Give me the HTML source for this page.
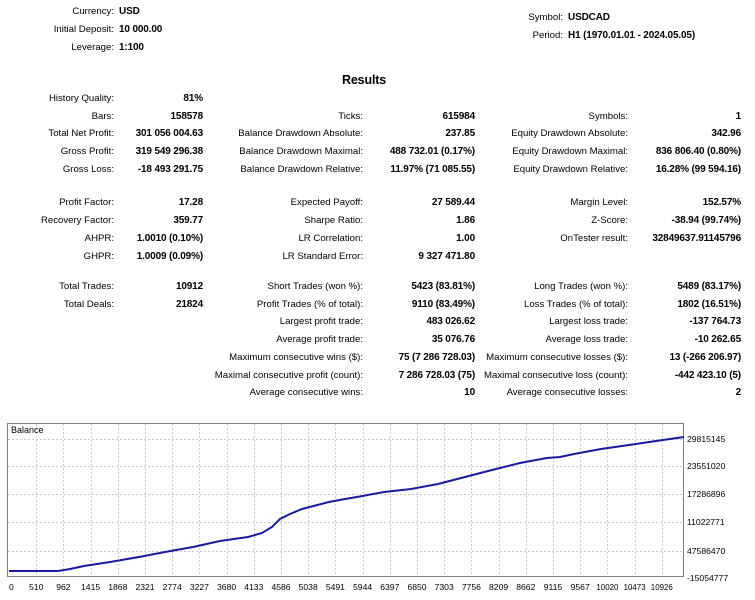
<!DOCTYPE html>
<html><head><meta charset="utf-8"><style>
body{margin:0;width:755px;height:600px;background:#fff;position:relative;overflow:hidden;font-family:"Liberation Sans",sans-serif;font-size:9.6px;color:#000}
.t{position:absolute;line-height:14px;white-space:nowrap}
.b{font-weight:bold;font-size:10px;letter-spacing:-0.15px}
</style></head><body>
<div class="t" style="right:641px;top:5px">Currency:</div><div class="t b" style="left:119px;top:5px">USD</div>
<div class="t" style="right:641px;top:23px">Initial Deposit:</div><div class="t b" style="left:119px;top:23px">10 000.00</div>
<div class="t" style="right:641px;top:41px">Leverage:</div><div class="t b" style="left:119px;top:41px">1:100</div>
<div class="t" style="right:192px;top:11px">Symbol:</div><div class="t b" style="left:568px;top:11px">USDCAD</div>
<div class="t" style="right:192px;top:29px">Period:</div><div class="t b" style="left:568px;top:29px">H1 (1970.01.01 - 2024.05.05)</div>
<div class="t b" style="left:342px;top:72px;font-size:12.5px;line-height:16px">Results</div>
<div id="rows"></div>
<svg style="position:absolute;left:0;top:0" width="755" height="600">
<rect x="7.5" y="423.5" width="676" height="153" fill="#fff" stroke="#808080"/>
<g id="grid" stroke="#c8c8c8" stroke-dasharray="2,2"></g>
<polyline fill="none" stroke="#1a1a9c" stroke-width="2" points="9,571 58,571 70,569 84,566 110,562 139,557 165,552 193,547 220,541 248,537 262,533 272,527 280,519 290,514 302,509 329,502 345,499 357,497 384,492 411,489 438,484 465,477 492,470 520,463 547,458 560,457 574,454 601,449 629,445 656,441 684,437"/>
<text x="11" y="433" font-size="9" font-family="Liberation Sans">Balance</text>
<g id="lab" font-size="8.6" font-family="Liberation Sans"></g>
</svg>
<script>
var R=[
[99,"History Quality:","81%"],[117,"Bars:","158578","Ticks:","615984","Symbols:","1"],
[134,"Total Net Profit:","301 056 004.63","Balance Drawdown Absolute:","237.85","Equity Drawdown Absolute:","342.96"],
[152,"Gross Profit:","319 549 296.38","Balance Drawdown Maximal:","488 732.01 (0.17%)","Equity Drawdown Maximal:","836 806.40 (0.80%)"],
[170,"Gross Loss:","-18 493 291.75","Balance Drawdown Relative:","11.97% (71 085.55)","Equity Drawdown Relative:","16.28% (99 594.16)"],
[203,"Profit Factor:","17.28","Expected Payoff:","27 589.44","Margin Level:","152.57%"],
[221,"Recovery Factor:","359.77","Sharpe Ratio:","1.86","Z-Score:","-38.94 (99.74%)"],
[239,"AHPR:","1.0010 (0.10%)","LR Correlation:","1.00","OnTester result:","32849637.91145796"],
[257,"GHPR:","1.0009 (0.09%)","LR Standard Error:","9 327 471.80"],
[287,"Total Trades:","10912","Short Trades (won %):","5423 (83.81%)","Long Trades (won %):","5489 (83.17%)"],
[305,"Total Deals:","21824","Profit Trades (% of total):","9110 (83.49%)","Loss Trades (% of total):","1802 (16.51%)"],
[322,"","","Largest profit trade:","483 026.62","Largest loss trade:","-137 764.73"],
[340,"","","Average profit trade:","35 076.76","Average loss trade:","-10 262.65"],
[358,"","","Maximum consecutive wins ($):","75 (7 286 728.03)","Maximum consecutive losses ($):","13 (-266 206.97)"],
[376,"","","Maximal consecutive profit (count):","7 286 728.03 (75)","Maximal consecutive loss (count):","-442 423.10 (5)"],
[393,"","","Average consecutive wins:","10","Average consecutive losses:","2"]];
var P=[641,552,392,280,127,14],h="";
R.forEach(function(r){for(var i=1;i<r.length;i++){if(!r[i])continue;h+='<div class="t'+(i%2==0?' b':'')+'" style="right:'+P[i-1]+'px;top:'+(r[0]-7)+'px">'+r[i]+'</div>';}});
document.getElementById("rows").innerHTML=h;
var g="",l="";
var ys=[439,466,494,522,551],yl=["29815145","23551020","17286896","11022771","47586470"];
ys.forEach(function(y,i){g+='<line x1="8" x2="683" y1="'+(y+.5)+'" y2="'+(y+.5)+'"/>';l+='<text x="687" y="'+(y+3)+'">'+yl[i]+'</text>';});
l+='<text x="687" y="581">-15054777</text>';
var xl=["0","510","962","1415","1868","2321","2774","3227","3680","4133","4586","5038","5491","5944","6397","6850","7303","7756","8209","8662","9115","9567","10020","10473","10926"];
xl.forEach(function(t,i){var x=9+i*27.2;if(i>0)g+='<line y1="424" y2="576" x1="'+(Math.round(x)+.5)+'" x2="'+(Math.round(x)+.5)+'"/>';l+='<text x="'+x+'" y="590" text-anchor="'+(i?"middle":"start")+'"'+(t.length>4?' textLength="22" lengthAdjust="spacingAndGlyphs"':'')+'>'+t+'</text>';});
document.getElementById("grid").innerHTML=g;document.getElementById("lab").innerHTML=l;
</script>
</body></html>
